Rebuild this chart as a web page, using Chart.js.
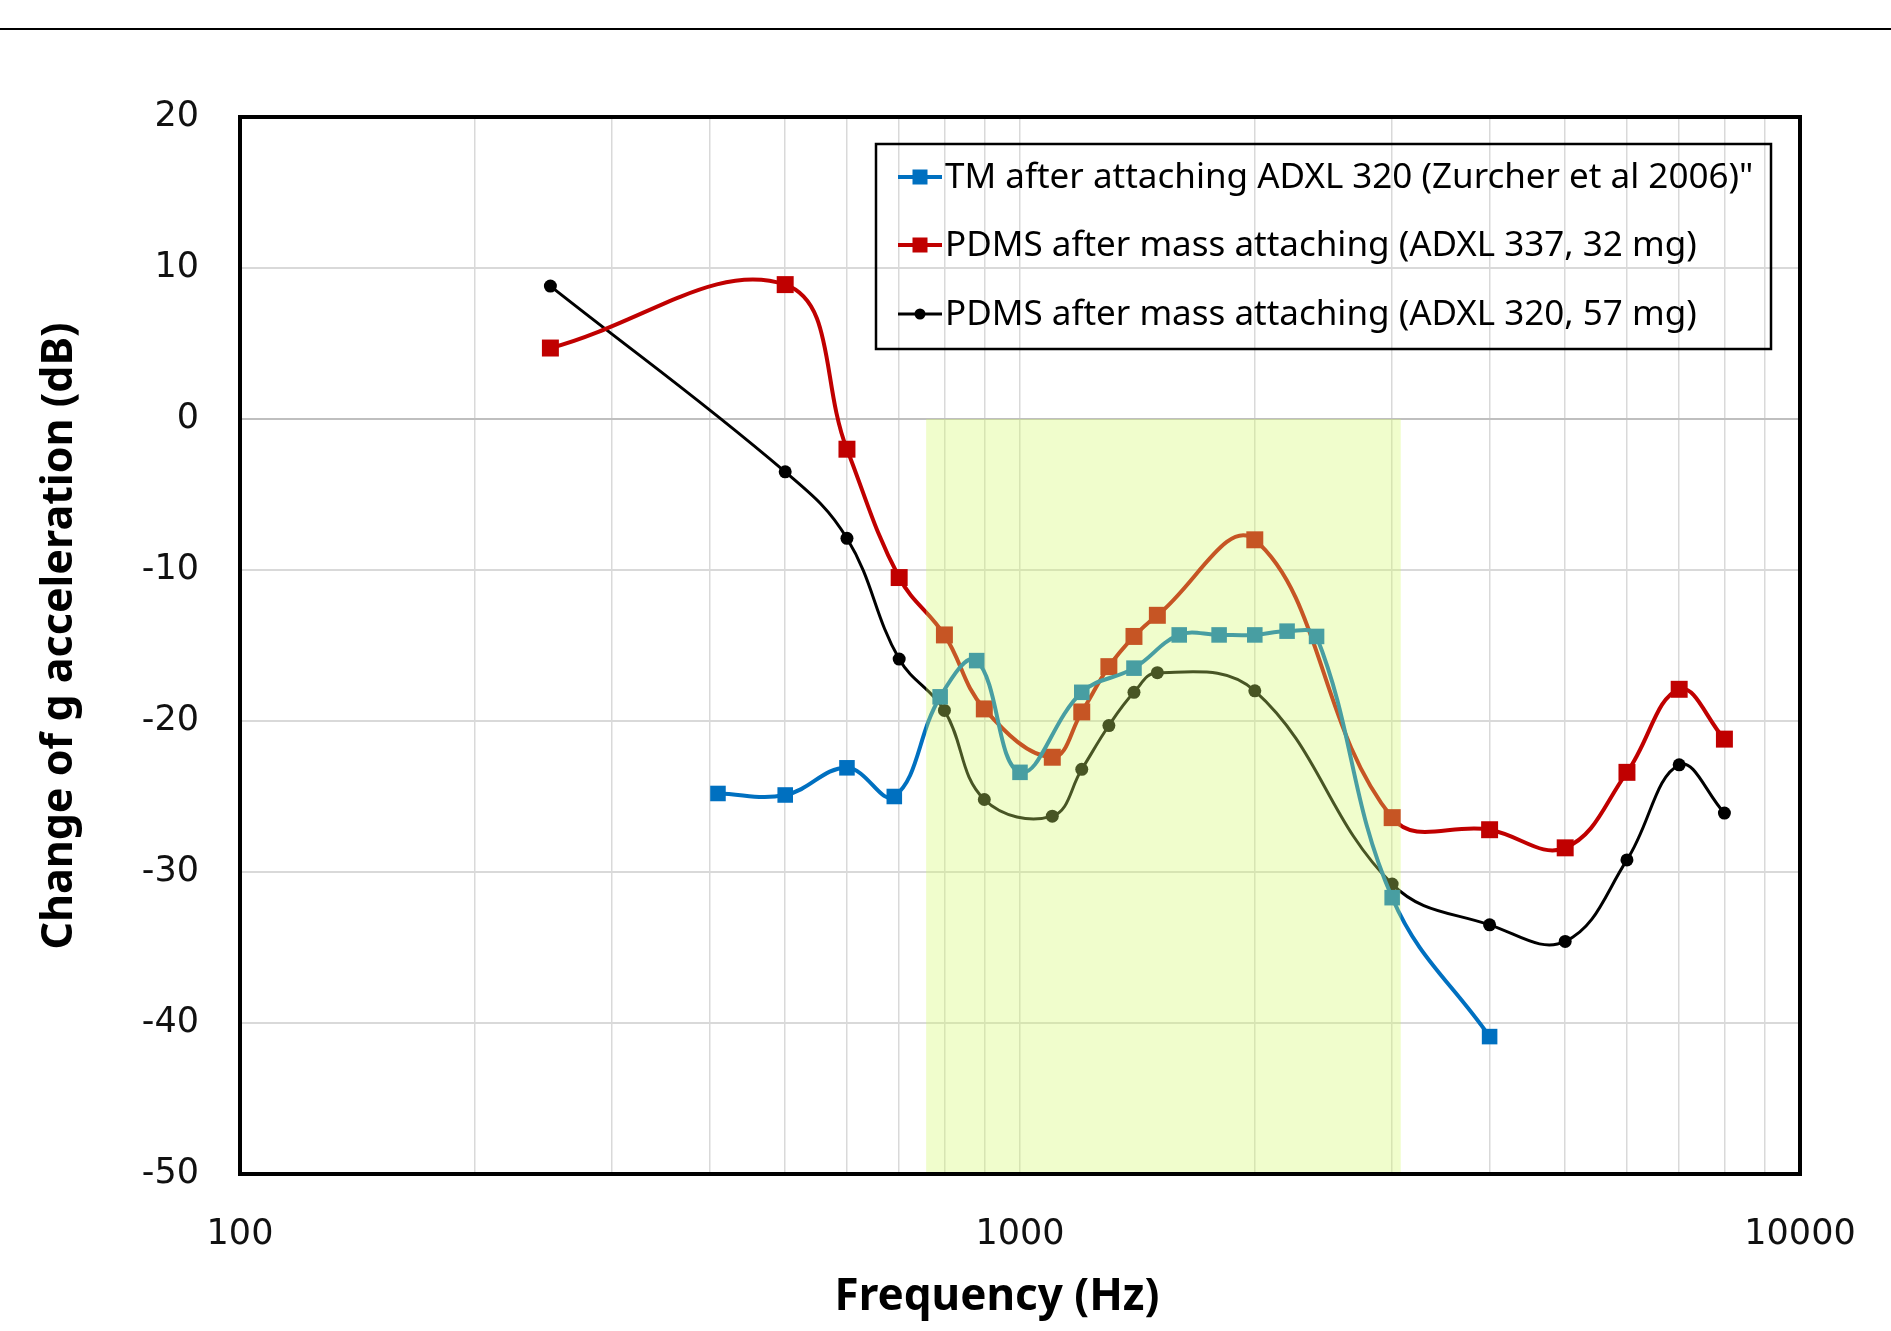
<!DOCTYPE html>
<html><head><meta charset="utf-8">
<script src="https://cdn.jsdelivr.net/npm/chart.js@4"></script>
<style>html,body{margin:0;padding:0;background:#fff}#wrap{width:1891px;height:1331px;position:relative}</style>
</head><body><div id="wrap"><canvas id="c" width="1891" height="1331"></canvas></div>
<script>
// ---- data ----
const seriesNames = [
  'TM after attaching ADXL 320 (Zurcher et al 2006)"',
  'PDMS after mass attaching (ADXL 337, 32 mg)',
  'PDMS after mass attaching (ADXL 320, 57 mg)'
];
const xAxisTitle = 'Frequency (Hz)';
const yAxisTitle = 'Change of g acceleration (dB)';
const tmFreq = [410, 500, 600, 690, 790, 880, 1000, 1200, 1400, 1600, 1800, 2000, 2200, 2400, 3000, 4000];
const tmDb   = [-24.8, -24.9, -23.1, -25.0, -18.4, -16.0, -23.4, -18.1, -16.5, -14.3, -14.3, -14.3, -14.05, -14.4, -31.7, -40.9];
const pdms337Freq = [250, 500, 600, 700, 800, 900, 1100, 1200, 1300, 1400, 1500, 2000, 3000, 4000, 5000, 6000, 7000, 8000];
const pdms337Db   = [4.7, 8.9, -2.0, -10.5, -14.3, -19.2, -22.4, -19.4, -16.4, -14.4, -13.0, -8.0, -26.4, -27.2, -28.4, -23.4, -17.9, -21.2];
const pdms320Freq = [250, 500, 600, 700, 800, 900, 1100, 1200, 1300, 1400, 1500, 2000, 3000, 4000, 5000, 6000, 7000, 8000];
const pdms320Db   = [8.8, -3.5, -7.9, -15.9, -19.3, -25.2, -26.3, -23.2, -20.3, -18.1, -16.8, -18.0, -30.8, -33.5, -34.6, -29.2, -22.9, -26.1];
const xTickValues = [100, 200, 300, 400, 500, 600, 700, 800, 900, 1000, 2000, 3000, 4000, 5000, 6000, 7000, 8000, 9000, 10000];
const xTickLabels = ['100', '1000', '10000'];
const yTickValues = [20, 10, 0, -10, -20, -30, -40, -50];
const bandFreq = [758, 3077];
const bandDb = [0, -50];
const seriesColors = ['#0070C0', '#C00000', '#000000'];

function pts(xs, ys) { return xs.map((x, i) => ({x: x, y: ys[i]})); }

const bandPlugin = {
  id: 'band',
  afterDatasetsDraw(chart) {
    const {ctx, scales: {x, y}} = chart;
    const x1 = x.getPixelForValue(bandFreq[0]), x2 = x.getPixelForValue(bandFreq[1]);
    const y1 = y.getPixelForValue(bandDb[0]), y2 = y.getPixelForValue(bandDb[1]);
    ctx.save();
    ctx.fillStyle = 'rgba(210,248,105,0.34)';
    ctx.fillRect(x1, y1, x2 - x1, y2 - y1);
    ctx.restore();
  }
};

const framePlugin = {
  id: 'frame',
  afterDraw(chart) {
    const {ctx, chartArea: a} = chart;
    ctx.save();
    ctx.strokeStyle = '#000'; ctx.lineWidth = 2;
    ctx.beginPath(); ctx.moveTo(0, 29); ctx.lineTo(chart.width, 29); ctx.stroke();
    ctx.lineWidth = 4;
    ctx.strokeRect(a.left, a.top, a.right - a.left, a.bottom - a.top);
    // axis titles
    ctx.fillStyle = '#000';
    ctx.textAlign = 'center'; ctx.textBaseline = 'middle';
    ctx.font = 'bold 44px "Noto Sans"';
    ctx.fillText(xAxisTitle, 997, 1297);
    ctx.save();
    ctx.translate(60, 636); ctx.rotate(-Math.PI / 2);
    ctx.font = 'bold 43px "Noto Sans"';
    ctx.fillText(yAxisTitle, 0, 0);
    ctx.restore();
    // legend
    const bx = 876, by = 144, bw = 895, bh = 205;
    ctx.lineWidth = 2.5;
    ctx.strokeRect(bx, by, bw, bh);
    const rows = [177, 245, 314];
    chart.data.datasets.forEach((ds, i) => {
      const yy = rows[i];
      ctx.strokeStyle = ds.borderColor; ctx.lineWidth = ds.borderWidth;
      ctx.beginPath(); ctx.moveTo(898, yy); ctx.lineTo(942, yy); ctx.stroke();
      ctx.fillStyle = ds.pointBackgroundColor;
      if (ds.pointStyle === 'rect') {
        ctx.fillRect(920 - 7.5, yy - 7.5, 15, 15);
      } else {
        ctx.beginPath(); ctx.arc(920, yy, 5.5, 0, Math.PI * 2); ctx.fill();
      }
      ctx.fillStyle = '#000';
      ctx.font = '35px "Noto Sans"';
      ctx.textBaseline = 'middle';
      ctx.textAlign = 'left';
      ctx.fillText(ds.label, 945, yy + 1);
    });
    ctx.restore();
  }
};

const chart = new Chart(document.getElementById('c'), {
  type: 'line',
  data: {
    datasets: [
      { label: seriesNames[0], data: pts(tmFreq, tmDb), borderColor: seriesColors[0], backgroundColor: seriesColors[0],
        pointBackgroundColor: seriesColors[0], pointBorderColor: seriesColors[0], borderWidth: 4, pointStyle: 'rect', pointRadius: 11, pointBorderWidth: 0, tension: 0.4 },
      { label: seriesNames[1], data: pts(pdms337Freq, pdms337Db), borderColor: seriesColors[1], backgroundColor: seriesColors[1],
        pointBackgroundColor: seriesColors[1], pointBorderColor: seriesColors[1], borderWidth: 4, pointStyle: 'rect', pointRadius: 12, pointBorderWidth: 0, tension: 0.4 },
      { label: seriesNames[2], data: pts(pdms320Freq, pdms320Db), borderColor: seriesColors[2], backgroundColor: seriesColors[2],
        pointBackgroundColor: seriesColors[2], pointBorderColor: seriesColors[2], borderWidth: 3, pointStyle: 'circle', pointRadius: 6.5, pointBorderWidth: 0, tension: 0.4 }
    ]
  },
  options: {
    responsive: false,
    animation: false,
    devicePixelRatio: 1,
    layout: { padding: { left: 0, right: 91, top: 117, bottom: 0 } },
    plugins: { legend: { display: false }, tooltip: { enabled: false } },
    scales: {
      x: {
        type: 'logarithmic', min: 100, max: 10000,
        afterBuildTicks(scale) { scale.ticks = xTickValues.map(v => ({value: v})); },
        afterFit(scale) { scale.height = 157; scale.paddingLeft = 0; scale.paddingRight = 0; },
        ticks: {
          autoSkip: false, maxRotation: 0, padding: 40, color: '#111',
          font: { family: 'DejaVu Sans', size: 35 },
          callback(v) { const s = String(v); return xTickLabels.includes(s) ? s : ''; }
        },
        grid: { color: '#D9D9D9', lineWidth: 1.5, drawTicks: false },
        border: { display: false },
        title: { display: false }
      },
      y: {
        min: -50, max: 20,
        afterBuildTicks(scale) { scale.ticks = yTickValues.map(v => ({value: v})); },
        afterFit(scale) { scale.width = 240; scale.paddingTop = 0; scale.paddingBottom = 0; },
        ticks: { padding: 41, color: '#111', font: { family: 'DejaVu Sans', size: 35 } },
        grid: { color: c => (c.tick && c.tick.value === 0) ? '#BFBFBF' : '#D9D9D9', lineWidth: 2, drawTicks: false },
        border: { display: false },
        title: { display: false }
      }
    }
  },
  plugins: [bandPlugin, framePlugin]
});
</script></body></html>
